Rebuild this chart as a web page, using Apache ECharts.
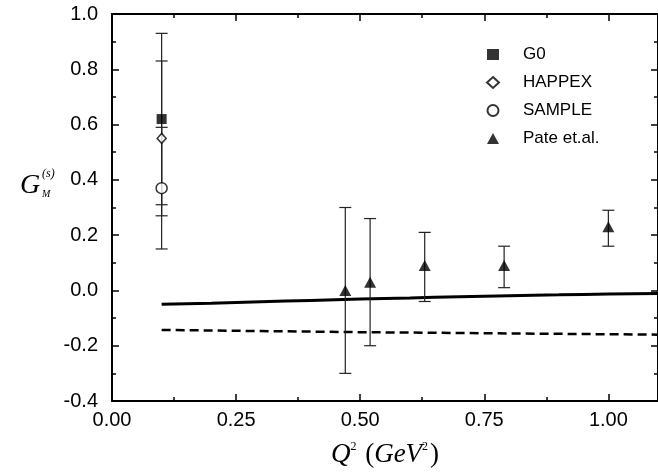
<!DOCTYPE html>
<html>
<head>
<meta charset="utf-8">
<script src="https://cdn.jsdelivr.net/npm/echarts@6/dist/echarts.min.js"></script>
<style>html,body{margin:0;padding:0;background:#fff;}#c{width:658px;height:473px;}</style>
</head>
<body>
<div id="c"></div>
<script>
// ---- data ----
var g0 = [[0.10, 0.62]];
var g0Err = [[0.10, 0.31, 0.93]];
var happex = [[0.10, 0.55]];
var happexErr = [[0.10, 0.27, 0.83]];
var sample = [[0.10, 0.37]];
var sampleErr = [[0.10, 0.15, 0.59]];
var pate = [[0.47, 0.00], [0.52, 0.03], [0.63, 0.09], [0.79, 0.09], [1.00, 0.23]];
var pateErr = [[0.47, -0.30, 0.30], [0.52, -0.20, 0.26], [0.63, -0.04, 0.21], [0.79, 0.01, 0.16], [1.00, 0.16, 0.29]];
var solidCurve = [[0.10, -0.050], [0.20, -0.046], [0.30, -0.041], [0.40, -0.036], [0.50, -0.031], [0.60, -0.027], [0.70, -0.023], [0.80, -0.019], [0.90, -0.016], [1.00, -0.013], [1.10, -0.011]];
var dashedCurve = [[0.10, -0.143], [0.30, -0.147], [0.50, -0.151], [0.70, -0.154], [0.90, -0.157], [1.10, -0.160]];
var xTicks = [0, 0.25, 0.5, 0.75, 1.0];
var yTicks = [-0.4, -0.2, 0, 0.2, 0.4, 0.6, 0.8, 1.0];

var allErr = g0Err.concat(happexErr, sampleErr, pateErr);

var chart = echarts.init(document.getElementById('c'), null, {renderer: 'canvas'});
var font = '"Liberation Sans", Arial, sans-serif';
var serif = '"Liberation Serif", "Times New Roman", serif';

function xAx(pos, showLabel) {
  var a = {
    type: 'value', position: pos, min: 0, max: 1.1, interval: 0.25,
    axisLine: {show: true, onZero: false, lineStyle: {color: '#000', width: 2}},
    axisTick: {show: true, inside: true, length: 7, lineStyle: {color: '#000', width: 1.5}},
    minorTick: {show: true, splitNumber: 2, length: 4, lineStyle: {color: '#000', width: 1.5}},
    splitLine: {show: false},
    axisLabel: {show: showLabel, showMaxLabel: false, margin: 9, color: '#000', fontSize: 20, fontFamily: font,
      formatter: function (v) { return v.toFixed(2); }}
  };
  if (showLabel) {
    a.name = '{q|Q}{s|2}{n| (}{q|GeV}{s|2}{n|)}';
    a.nameLocation = 'middle';
    a.nameGap = 40;
    a.nameTextStyle = {
      rich: {
        q: {fontFamily: serif, fontStyle: 'italic', fontSize: 27, color: '#000'},
        n: {fontFamily: serif, fontSize: 27, color: '#000'},
        s: {fontFamily: serif, fontSize: 12, verticalAlign: 'top', color: '#000', padding: [0, 2, 0, 0]}
      }
    };
  }
  return a;
}
function yAx(pos, showLabel) {
  return {
    type: 'value', position: pos, min: -0.4, max: 1.0, interval: 0.2,
    axisLine: {show: true, onZero: false, lineStyle: {color: '#000', width: 2}},
    axisTick: {show: true, inside: true, length: 7, lineStyle: {color: '#000', width: 1.5}},
    minorTick: {show: true, splitNumber: 2, length: 4, lineStyle: {color: '#000', width: 1.5}},
    splitLine: {show: false},
    axisLabel: {show: showLabel, margin: 14, color: '#000', fontSize: 20, fontFamily: font,
      formatter: function (v) { return v.toFixed(1); }}
  };
}

var option = {
  backgroundColor: '#fff',
  animation: false,
  grid: {left: 112, top: 14, right: -2, bottom: 71, containLabel: false},
  xAxis: [xAx('bottom', true), xAx('top', false)],
  yAxis: [yAx('left', true), yAx('right', false)],
  legend: {
    orient: 'vertical', left: 481, top: 41,
    itemWidth: 12, itemHeight: 11, itemGap: 11,
    data: ['G0', 'HAPPEX', 'SAMPLE', 'Pate et.al.'],
    textStyle: {fontSize: 17, fontFamily: font, color: '#000', lineHeight: 17, padding: [0, 0, 0, 19]}
  },
  graphic: [
    {type: 'text', left: 20, top: 172, style: {text: 'G', font: 'italic 28px ' + serif, fill: '#000'}},
    {type: 'text', left: 42, top: 168, style: {text: '(s)', font: 'italic 12px ' + serif, fill: '#000'}},
    {type: 'text', left: 42, top: 189, style: {text: 'M', font: 'italic 10px ' + serif, fill: '#000'}}
  ],
  series: [
    {type: 'line', data: solidCurve, showSymbol: false, symbol: 'none', smooth: true,
      lineStyle: {color: '#000', width: 3}, z: 2, silent: true},
    {type: 'line', data: dashedCurve, showSymbol: false, symbol: 'none',
      lineStyle: {color: '#000', width: 2.5, type: [9, 5]}, z: 2, silent: true},
    {type: 'custom', data: allErr, z: 3, silent: true,
      renderItem: function (params, api) {
        var x = api.value(0), lo = api.value(1), hi = api.value(2);
        var pLo = api.coord([x, lo]), pHi = api.coord([x, hi]);
        var hw = 6;
        var st = {stroke: '#222', lineWidth: 1.2};
        return {type: 'group', children: [
          {type: 'line', shape: {x1: pLo[0], y1: pLo[1], x2: pHi[0], y2: pHi[1]}, style: st},
          {type: 'line', shape: {x1: pLo[0] - hw, y1: pLo[1], x2: pLo[0] + hw, y2: pLo[1]}, style: st},
          {type: 'line', shape: {x1: pHi[0] - hw, y1: pHi[1], x2: pHi[0] + hw, y2: pHi[1]}, style: st}
        ]};
      },
      encode: {x: 0, y: [1, 2]}
    },
    {name: 'G0', type: 'scatter', data: g0, symbol: 'rect', symbolSize: 10,
      itemStyle: {color: '#000'}, z: 5},
    {name: 'HAPPEX', type: 'scatter', data: happex, symbol: 'diamond', symbolSize: [9, 10],
      itemStyle: {color: '#fff', borderColor: '#000', borderWidth: 1.5}, z: 5},
    {name: 'SAMPLE', type: 'scatter', data: sample, symbol: 'circle', symbolSize: 11,
      itemStyle: {color: '#fff', borderColor: '#000', borderWidth: 1.5}, z: 5},
    {name: 'Pate et.al.', type: 'scatter', data: pate, symbol: 'triangle', symbolSize: [12, 11],
      itemStyle: {color: '#000'}, z: 5}
  ]
};
chart.setOption(option);
</script>
</body>
</html>
